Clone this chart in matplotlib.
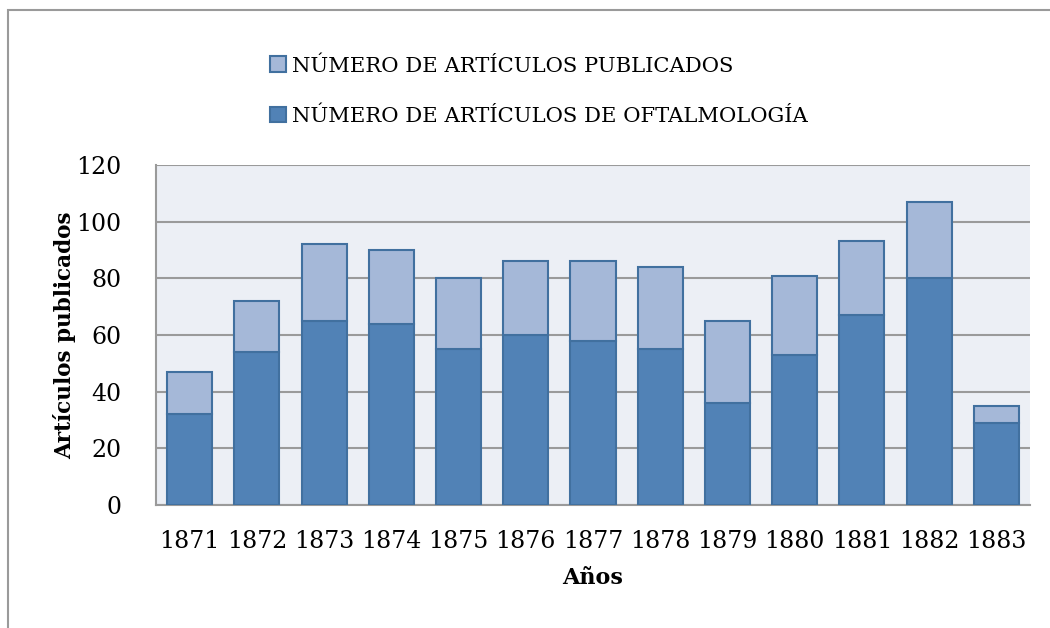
import matplotlib.pyplot as plt
from matplotlib.patches import Rectangle
import numpy as np

years = ['1871', '1872', '1873', '1874', '1875', '1876', '1877',
         '1878', '1879', '1880', '1881', '1882', '1883']
oftalmologia = [32, 54, 65, 64, 55, 60, 58, 55, 36, 53, 67, 80, 29]
publicados = [47, 72, 92, 90, 80, 86, 86, 84, 65, 81, 93, 107, 35]
resto = [p - o for p, o in zip(publicados, oftalmologia)]

plt.rcParams['font.family'] = ['DejaVu Serif']

fig = plt.figure(figsize=(10.5, 6.28), dpi=100, facecolor='white')
ax = fig.add_axes([156 / 1050, 1 - 505 / 628, (1030 - 156) / 1050, (505 - 165) / 628])
ax.set_facecolor('#ECEFF5')

x = np.arange(len(years))
dark = '#5182B6'
light = '#A5B8D8'
edge = '#41709F'
ax.bar(x, oftalmologia, width=0.67, color=dark, edgecolor=edge, linewidth=1.5, zorder=3,
       label='NÚMERO DE ARTÍCULOS DE OFTALMOLOGÍA')
ax.bar(x, resto, bottom=oftalmologia, width=0.67, color=light, edgecolor=edge, linewidth=1.5,
       zorder=3, label='NÚMERO DE ARTÍCULOS PUBLICADOS')

ax.set_xlim(-0.5, len(years) - 0.5)
ax.set_ylim(0, 120)
ax.set_yticks(range(0, 121, 20))
ax.set_xticks(x)
ax.set_xticklabels(years)
ax.grid(axis='y', color='#9A9A9A', linewidth=1.5, zorder=1)
for s in ['top', 'right']:
    ax.spines[s].set_visible(False)
ax.spines['left'].set_color('#9A9A9A')
ax.spines['bottom'].set_color('#9A9A9A')
ax.spines['left'].set_linewidth(1.5)
ax.spines['bottom'].set_linewidth(1.5)
ax.tick_params(length=0, labelsize=17, colors='black')
ax.tick_params(axis='x', pad=18)
ax.tick_params(axis='y', pad=25)
ax.set_xlabel('Años', fontsize=16, fontweight='bold', labelpad=10)
ax.set_ylabel('Artículos publicados', fontsize=15.5, fontweight='bold', labelpad=0)

handles, labels = ax.get_legend_handles_labels()
leg = fig.legend(handles[::-1], labels[::-1], loc='upper left',
                 bbox_to_anchor=(251 / 1050, 1 - 37 / 628), frameon=False,
                 fontsize=15.2, handlelength=0.75, handleheight=0.75, handletextpad=0.3,
                 labelspacing=1.45)

fig.patches.append(Rectangle((8 / 1050, -0.05), 1.2, 1.05 - 10 / 628,
                             transform=fig.transFigure, fill=False,
                             edgecolor='#9A9A9A', linewidth=1.5))

fig.savefig('out.png', dpi=100, facecolor='white')
